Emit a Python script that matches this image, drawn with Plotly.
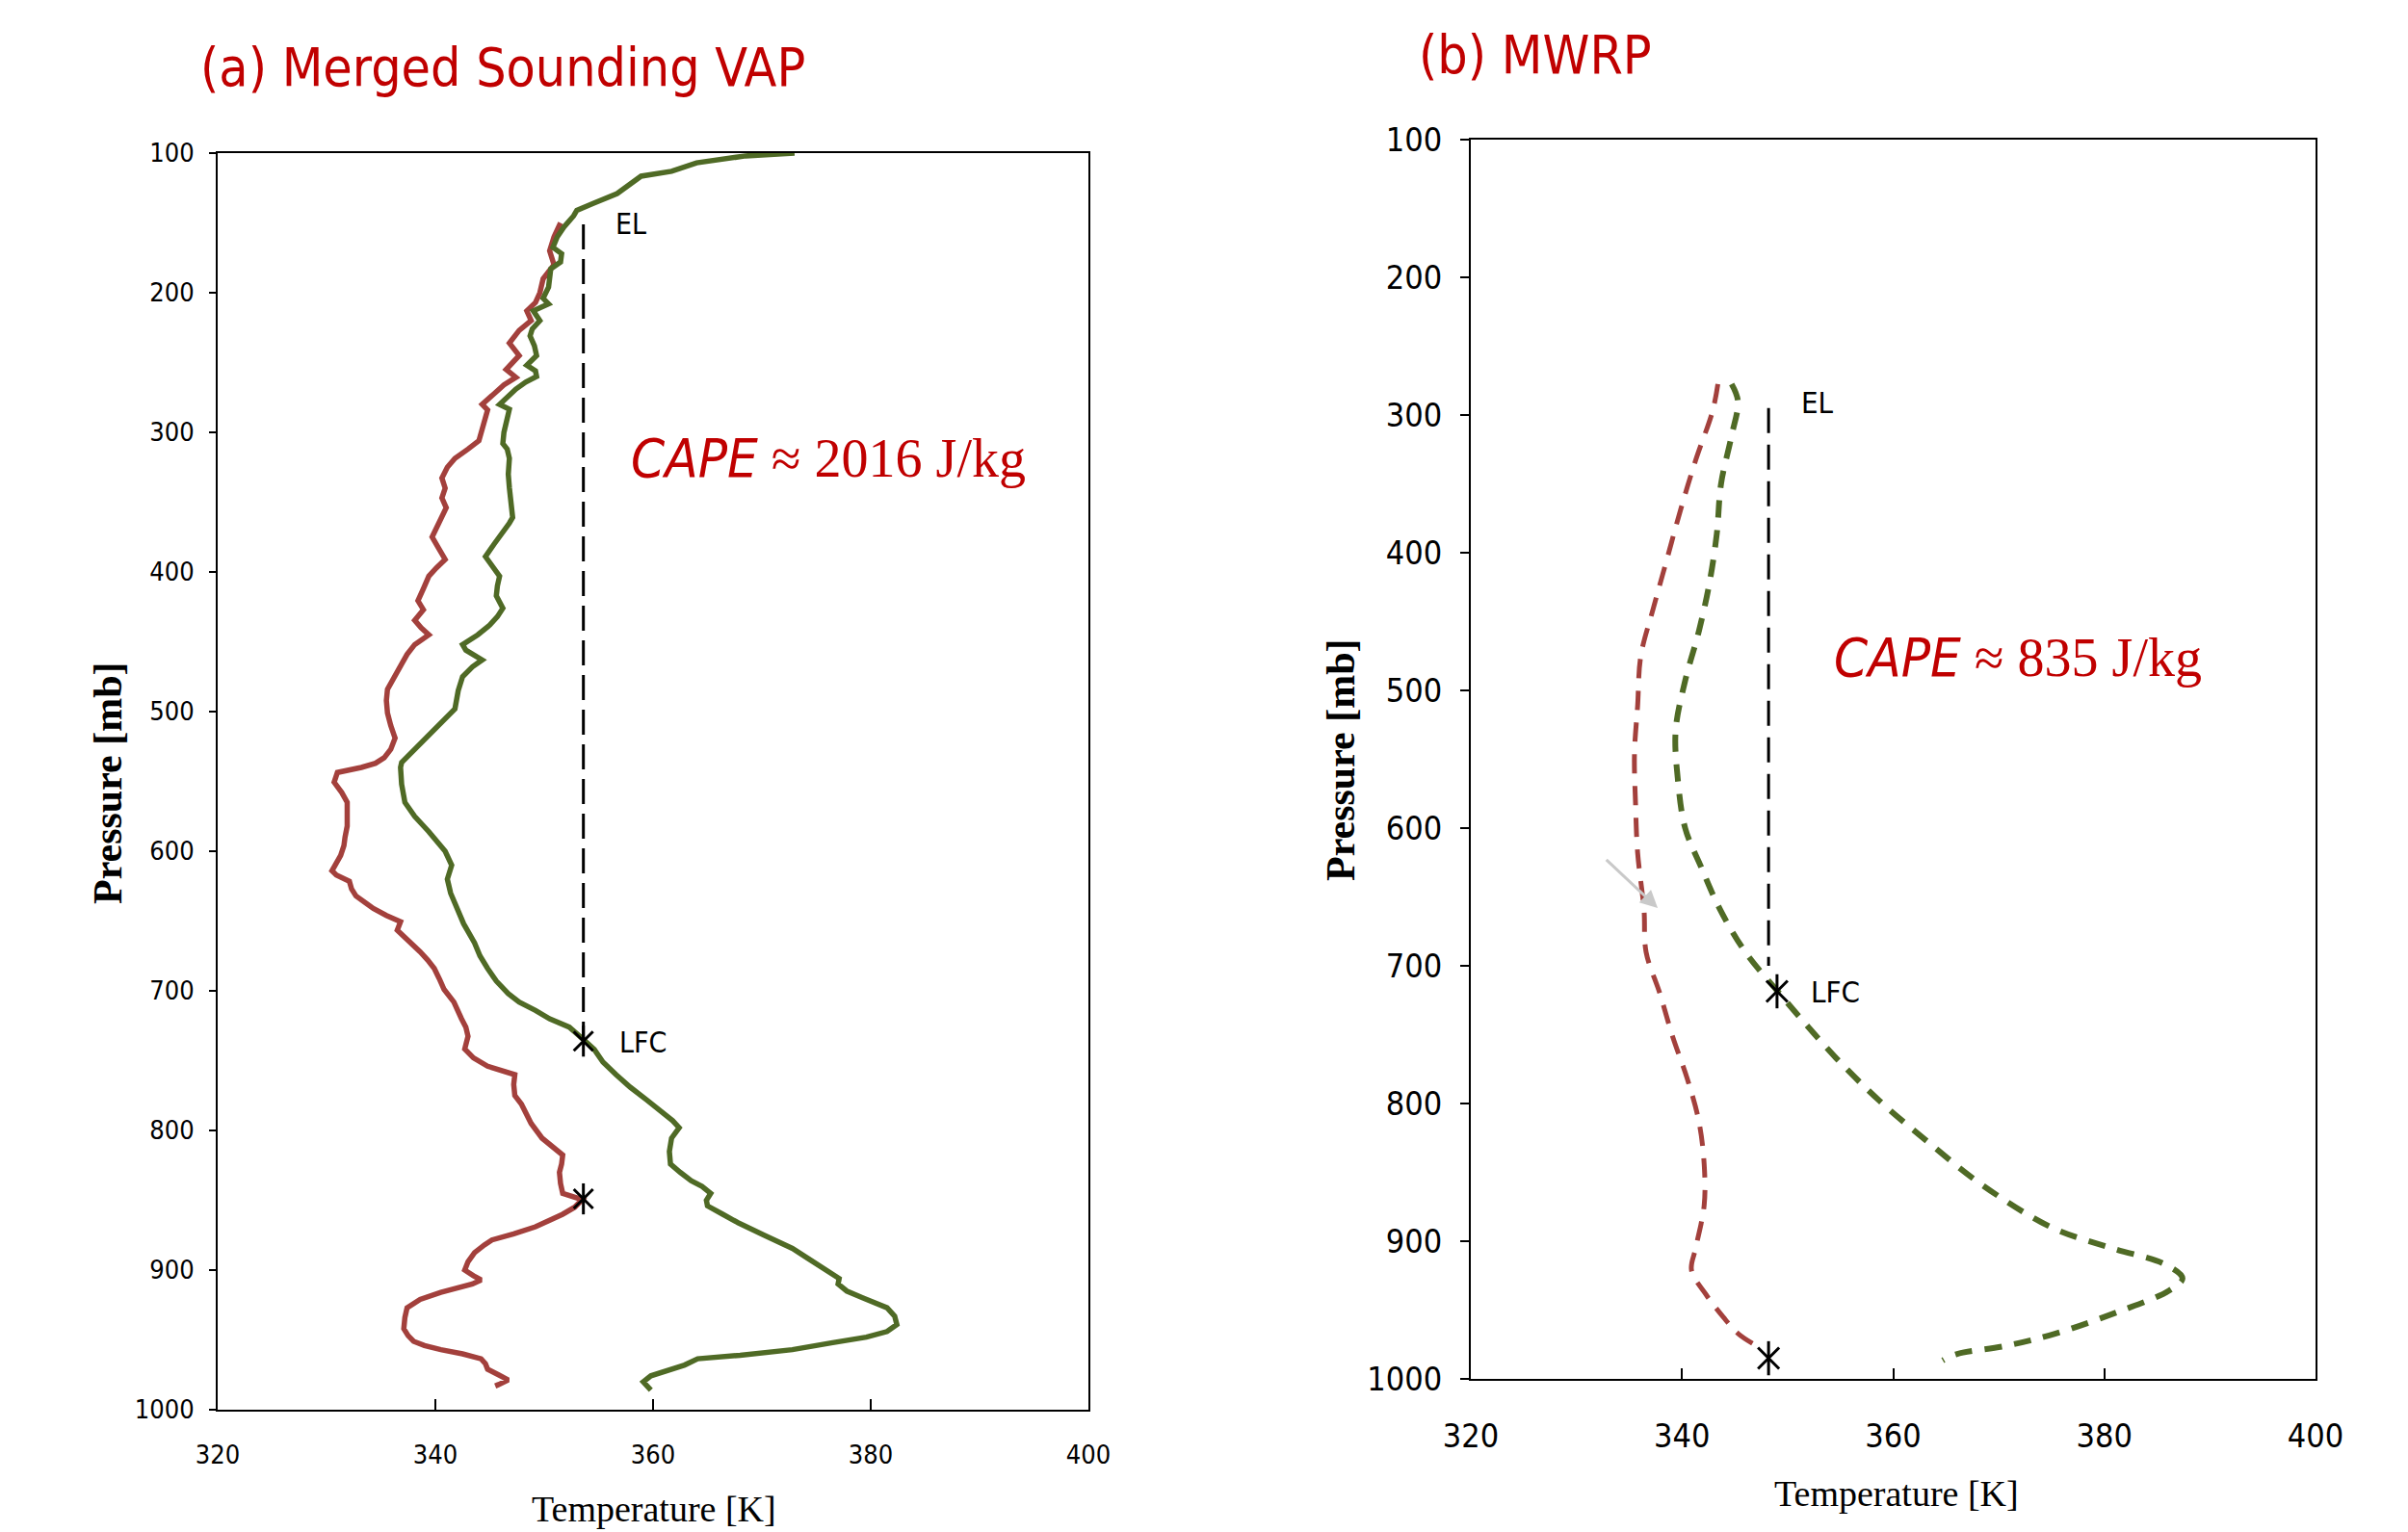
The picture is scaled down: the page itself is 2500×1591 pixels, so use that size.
import plotly.graph_objects as go

# ---------------- Panel (a): Merged Sounding VAP ----------------
a_green_P = [100, 102, 107, 113, 116.5, 120, 129, 136, 141, 145, 153, 160, 167.5, 172, 178, 183, 188.6, 196, 204, 208,
             213, 220, 226, 231, 238, 245, 252, 256, 260, 264, 269, 275, 280, 283.5, 290, 300, 308, 312, 318.6, 330,
             339.7, 350, 361, 365, 371, 380, 389, 395, 403, 410, 417, 426, 432, 438, 445, 452, 456, 463, 468, 475,
             485, 498, 505, 517, 527, 536.5, 540, 552, 565, 575, 586, 600, 610, 620, 630, 641, 652, 665.6, 675, 684,
             693, 702, 708, 714, 720, 726, 731, 735.5, 742, 751, 760, 769, 778, 787.5, 793, 798, 805.5, 815, 824, 830,
             836, 840, 845, 850, 854, 860, 866, 875, 884.5, 892, 900, 906, 910, 915, 920, 927, 933, 939, 944, 948,
             952, 957, 961, 963.5, 968, 972, 975.7, 980, 986]
a_green_T = [373, 368.5, 364, 361.7, 358.9, 358.3, 356.7, 354.5, 353, 352.7, 351.8, 351.2, 350.8, 351.6, 351.5, 350.6,
             350.5, 350.4, 349.9, 350.4, 349, 349.6, 348.9, 348.7, 349.1, 349.3, 348.4, 349.2, 349.3, 348.3, 347.4,
             346.5, 345.9, 346.8, 346.6, 346.3, 346.2, 346.6, 346.8, 346.7, 346.8, 346.9, 347.1, 346.8, 346.2, 345.4,
             344.6, 345.2, 345.9, 345.7, 345.6, 346.2, 345.7, 345, 343.9, 342.5, 342.8, 344.3, 343.4, 342.5, 342.1,
             341.8, 340.9, 339.4, 338.1, 336.9, 336.8, 336.9, 337.2, 338.1, 339.4, 340.9, 341.5, 341.1, 341.4, 342,
             342.6, 343.6, 344.1, 344.8, 345.6, 346.7, 347.7, 349.2, 350.5, 352.3, 353.1, 353.7, 354.6, 355.4, 356.6,
             357.9, 359.4, 361, 361.8, 362.4, 361.7, 361.5, 361.6, 362.5, 363.5, 364.5, 365.3, 364.9, 365, 366.4,
             367.8, 370.2, 372.8, 374.3, 375.9, 377.1, 377, 377.8, 379.3, 381.5, 382.2, 382.4, 381.5, 379.6, 376.5,
             372.8, 368, 364.1, 362.9, 361.2, 359.8, 359.1, 359.8]

a_red_P = [150, 160, 170, 180, 190, 200, 207, 213, 220, 227, 236, 245, 255, 260.6, 266, 271, 280, 284, 295, 306, 312,
           318.6, 325, 332.7, 340, 347, 354, 361, 368, 375, 383, 391, 397, 403, 412, 420.6, 427, 434.6, 440, 445, 452,
           459, 466, 475, 484, 492, 501, 510, 519, 527, 533, 537, 540, 543.6, 550.6, 558, 565, 574, 582, 590, 596, 603,
           610, 614, 617, 621.5, 627, 632, 637, 641, 646, 650.5, 656.5, 664, 672, 678, 684, 692, 699, 708, 714, 720,
           726, 732.5, 741.6, 748, 754, 757, 760, 767, 775, 781, 787, 795, 805.5, 811, 817.6, 824, 830, 838, 845,
           849.5, 855, 860, 865, 869, 874, 878.4, 882, 887.5, 894, 900, 904, 907, 910, 912, 916, 921, 927, 934, 942,
           947, 951, 954, 957, 960, 963.5, 967, 971, 975, 978.7, 982, 983]
a_red_T = [351.5, 350.9, 350.5, 350.9, 349.9, 349.6, 349.2, 348.4, 348.8, 347.7, 346.8, 347.7, 346.5, 347.4, 346.3,
           345.6, 344.3, 344.8, 344.4, 344, 343, 341.8, 341.1, 340.6, 340.9, 340.6, 341, 340.6, 340.2, 339.7, 340.3,
           340.9, 340.1, 339.4, 338.9, 338.4, 338.9, 338.1, 338.7, 339.4, 338.1, 337.4, 336.9, 336.3, 335.6, 335.5,
           335.6, 335.9, 336.3, 335.9, 335.3, 334.5, 333.2, 331, 330.7, 331.4, 331.9, 331.9, 331.9, 331.7, 331.6,
           331.3, 330.7, 330.5, 330.9, 332.1, 332.3, 332.7, 333.6, 334.3, 335.5, 336.8, 336.5, 337.6, 338.6, 339.3,
           339.9, 340.4, 340.8, 341.7, 342.0, 342.4, 342.8, 343, 342.7, 343.5, 344.8, 346, 347.3, 347.2, 347.3, 347.9,
           348.3, 348.8, 349.8, 350.6, 351.7, 351.6, 351.4, 351.5, 351.7, 353.5, 352.8, 351.7, 350.4, 349.2, 347.2,
           345.2, 344.5, 343.6, 343, 342.7, 343.5, 344.2, 343.4, 342.4, 340.5, 338.6, 337.4, 337.2, 337.1, 337.5, 338,
           339, 340.5, 342.5, 344.2, 344.6, 344.8, 345.8, 346.7, 345.8, 345.5]

a_level_T = 353.6          # vertical EL-LFC line
a_EL_P = 151
a_LFC_P = 736
a_star_T = [353.6, 353.6]
a_star_P = [736, 849]
a_cape = "2016 J/kg"

# ---------------- Panel (b): MWRP ----------------
b_red_P = [277.5, 297, 332.7, 368, 404, 440, 475, 511, 546, 582, 618, 659, 690, 720, 751, 782, 813, 844, 874, 905,
           921, 939, 955, 967, 977]
b_red_T = [343.4, 342.9, 341.3, 339.9, 338.6, 337.3, 336.1, 335.8, 335.5, 335.6, 335.8, 336.4, 336.6, 337.9, 339.1,
           340.5, 341.6, 342.1, 342.1, 341.3, 340.9, 342.3, 343.9, 345.3, 347.3]
b_green_P = [277.5, 290, 315, 350, 386, 422, 457, 493, 529, 564, 600, 628, 659, 690, 718, 736, 767, 798, 828, 859,
             890, 905, 917, 927, 936, 951, 967, 976, 982, 986.6]
b_green_T = [344.7, 345.3, 344.7, 343.7, 343.3, 342.6, 341.6, 340.3, 339.4, 339.6, 340.3, 341.8, 343.6, 346, 349,
             351, 354.6, 358.7, 363.3, 368.4, 375, 380.7, 385.8, 387.4, 386.1, 381.4, 375.4, 370.7, 366, 364.7]

b_level_T = 348.2
b_EL_P = 295
b_LFC_P = 700
b_star_T = [349.0, 348.2]
b_star_P = [718.5, 985]
b_cape = "835 J/kg"

x_ticks = [320, 340, 360, 380, 400]
y_ticks = [100, 200, 300, 400, 500, 600, 700, 800, 900, 1000]

RED = "#A3403C"
GREEN = "#4F6A25"
TITLE_RED = "#C00000"
NARROW = "Liberation Sans Narrow, DejaVu Sans Condensed, Arial Narrow, sans-serif"
SERIF = "Liberation Serif, DejaVu Serif, serif"

W, H, OFF = 2500, 1591, 8   # page body margin offset


def px(x):
    return (x - OFF) / W


def py(y):
    return 1 - (y - OFF) / H


fig = go.Figure()


def add_stars(xs, ys, xa, ya, size):
    # six-armed star: an X plus a vertical bar
    for sym, sz in (("x-thin-open", size), ("line-ns-open", size * 1.15)):
        fig.add_trace(go.Scatter(x=xs, y=ys, mode="markers", xaxis=xa, yaxis=ya, hoverinfo="skip",
                                 marker=dict(symbol=sym, size=sz, color="black",
                                             line=dict(color="black", width=3))))


# panel a
fig.add_trace(go.Scatter(x=a_red_T, y=a_red_P, mode="lines", line=dict(color=RED, width=5.5),
                         xaxis="x", yaxis="y", hoverinfo="skip"))
fig.add_trace(go.Scatter(x=a_green_T, y=a_green_P, mode="lines", line=dict(color=GREEN, width=5.5),
                         xaxis="x", yaxis="y", hoverinfo="skip"))
fig.add_trace(go.Scatter(x=[a_level_T, a_level_T], y=[a_EL_P, a_LFC_P], mode="lines",
                         line=dict(color="black", width=3, dash="26px,10px"), xaxis="x", yaxis="y"))
add_stars(a_star_T, a_star_P, "x", "y", 20)

# panel b
fig.add_trace(go.Scatter(x=b_red_T, y=b_red_P, mode="lines", line=dict(color=RED, width=5, dash="20px,13px", shape="spline"),
                         xaxis="x2", yaxis="y2", hoverinfo="skip"))
fig.add_trace(go.Scatter(x=b_green_T, y=b_green_P, mode="lines",
                         line=dict(color=GREEN, width=6, dash="18px,13px", shape="spline"),
                         xaxis="x2", yaxis="y2", hoverinfo="skip"))
fig.add_trace(go.Scatter(x=[b_level_T, b_level_T], y=[b_EL_P, b_LFC_P], mode="lines",
                         line=dict(color="black", width=3, dash="26px,12px"), xaxis="x2", yaxis="y2"))
add_stars(b_star_T, b_star_P, "x2", "y2", 22)

axis_common = dict(showgrid=False, zeroline=False, showline=True, linecolor="black", mirror=True, automargin=False)

fig.update_layout(
    width=W, height=H,
    margin=dict(l=0, r=0, t=0, b=0, pad=0, autoexpand=False),
    paper_bgcolor="white", plot_bgcolor="white",
    showlegend=False,
    xaxis=dict(domain=[px(226), px(1130)], range=[320, 400], tickvals=x_ticks, ticks="inside", ticklen=11,
               tickwidth=2, tickcolor="black", linewidth=2, anchor="y",
               tickfont=dict(family=NARROW, size=27, color="black"), ticklabelstandoff=22, **axis_common),
    yaxis=dict(domain=[py(1464), py(159)], range=[1000, 100], tickvals=y_ticks, ticks="outside", ticklen=7,
               tickwidth=2, tickcolor="black", linewidth=2, anchor="x",
               tickfont=dict(family=NARROW, size=27, color="black"), ticklabelstandoff=10, **axis_common),
    xaxis2=dict(domain=[px(1527), px(2404)], range=[320, 400], tickvals=x_ticks, ticks="inside", ticklen=11,
                tickwidth=2, tickcolor="black", linewidth=2, anchor="y2",
                tickfont=dict(family=NARROW, size=34, color="black"), ticklabelstandoff=28, **axis_common),
    yaxis2=dict(domain=[py(1432), py(145)], range=[1000, 100], tickvals=y_ticks, ticks="outside", ticklen=9,
                tickwidth=2, tickcolor="black", linewidth=2, anchor="x2",
                tickfont=dict(family=NARROW, size=34, color="black"), ticklabelstandoff=12, **axis_common),
)

ann = []
# titles
ann.append(dict(text="(a) Merged Sounding VAP", x=px(522), y=py(70), xref="paper", yref="paper",
                showarrow=False, xanchor="center", yanchor="middle",
                font=dict(family=NARROW, size=55, color=TITLE_RED)))
ann.append(dict(text="(b) MWRP", x=px(1594), y=py(57), xref="paper", yref="paper",
                showarrow=False, xanchor="center", yanchor="middle",
                font=dict(family=NARROW, size=55, color=TITLE_RED)))
# axis titles
ann.append(dict(text="Temperature [K]", x=px(679), y=py(1567), xref="paper", yref="paper",
                showarrow=False, xanchor="center", yanchor="middle",
                font=dict(family=SERIF, size=38, color="black")))
ann.append(dict(text="<b>Pressure [mb]</b>", x=px(112), y=py(813), xref="paper", yref="paper",
                showarrow=False, xanchor="center", yanchor="middle", textangle=-90,
                font=dict(family=SERIF, size=42, color="black")))
ann.append(dict(text="Temperature [K]", x=px(1969), y=py(1551), xref="paper", yref="paper",
                showarrow=False, xanchor="center", yanchor="middle",
                font=dict(family=SERIF, size=38, color="black")))
ann.append(dict(text="<b>Pressure [mb]</b>", x=px(1392), y=py(789), xref="paper", yref="paper",
                showarrow=False, xanchor="center", yanchor="middle", textangle=-90,
                font=dict(family=SERIF, size=42, color="black")))
# EL / LFC labels
for xr, yr, t, x, y, s in [("x", "y", "EL", 356.4, a_EL_P, 30), ("x", "y", "LFC", 356.7, 737, 30),
                           ("x2", "y2", "EL", 351.1, 291, 31), ("x2", "y2", "LFC", 352.0, 719, 31)]:
    ann.append(dict(text=t, x=x, y=y, xref=xr, yref=yr, showarrow=False, xanchor="left", yanchor="middle",
                    font=dict(family=NARROW, size=s, color="black")))
# CAPE labels
cape_tpl = ('<span style="font-family:Liberation Sans Narrow, DejaVu Sans Condensed, sans-serif">'
            '<i>CAPE</i></span> \u2248 {}')
ann.append(dict(text=cape_tpl.format(a_cape), x=357.8, y=318, xref="x", yref="y", showarrow=False,
                xanchor="left", yanchor="middle", font=dict(family=SERIF, size=56, color=TITLE_RED)))
ann.append(dict(text=cape_tpl.format(b_cape), x=354.2, y=476, xref="x2", yref="y2", showarrow=False,
                xanchor="left", yanchor="middle", font=dict(family=SERIF, size=56, color=TITLE_RED)))
# faint grey arrow in panel b
ann.append(dict(x=337.7, y=658, ax=332.7, ay=622, xref="x2", yref="y2", axref="x2", ayref="y2",
                showarrow=True, arrowhead=2, arrowsize=1.2, arrowwidth=3, arrowcolor="#C9C9C9", text=""))

fig.update_layout(annotations=ann)
fig.write_html("out.html")
